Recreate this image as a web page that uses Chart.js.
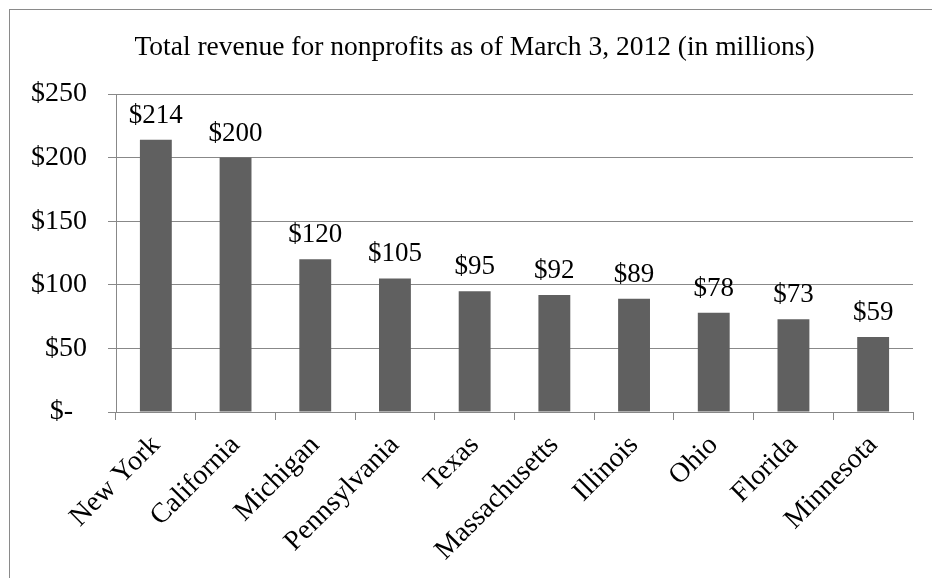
<!DOCTYPE html>
<html>
<head>
<script src="https://cdn.jsdelivr.net/npm/chart.js"></script>
<style>
  body { margin: 0; overflow: hidden; background: #fff; }
  #frame { position: absolute; left: 9px; top: 9px; width: 1000px; height: 700px; border: 1.5px solid #8a8a8a; }
  #box { position: absolute; left: 0; top: 0; width: 932px; height: 578px; }
</style>
</head>

<body>
<div id="frame"></div>
<div id="box">
  <canvas id="myChart" width="932" height="578"></canvas>
</div>

<script>
  const states = ['New York', 'California', 'Michigan', 'Pennsylvania', 'Texas',
                  'Massachusetts', 'Illinois', 'Ohio', 'Florida', 'Minnesota'];
  const revenue = [214, 200, 120, 105, 95, 92, 89, 78, 73, 59];
  const yTickLabels = ['$-\u2007', '$50', '$100', '$150', '$200', '$250'];
  const titleText = 'Total revenue for nonprofits as of March 3, 2012 (in millions)';

  const serif = '"Liberation Serif", "Times New Roman", serif';
  const gridColor = '#888888';

  // writes "$value" above each bar
  const barLabels = {
    id: 'barLabels',
    afterDatasetsDraw(chart) {
      const c = chart.ctx;
      const meta = chart.getDatasetMeta(0);
      c.save();
      c.font = '27px ' + serif;
      c.fillStyle = '#000';
      c.textAlign = 'center';
      c.textBaseline = 'alphabetic';
      meta.data.forEach(function(bar, i) {
        c.fillText('$' + revenue[i], bar.x, bar.y - 17);
      });
      c.restore();
    }
  };

  // title sits a bit left of the plot centre, so it is drawn here
  // instead of through the title plugin
  const chartTitle = {
    id: 'chartTitle',
    afterDraw(chart) {
      const c = chart.ctx;
      c.save();
      c.font = '27.5px ' + serif;
      c.fillStyle = '#000';
      c.textAlign = 'center';
      c.textBaseline = 'alphabetic';
      c.fillText(titleText, 474.5, 55);
      c.restore();
    }
  };

  const ctx = document.getElementById('myChart');
  new Chart(ctx, {
    type: 'bar',
    data: {
      labels: states,
      datasets: [{
        label: 'Revenue',
        data: revenue,
        backgroundColor: '#606060',
        barPercentage: 0.4,
        categoryPercentage: 1.0
      }]
    },
    options: {
      responsive: false,
      animation: false,
      layout: { padding: { left: 0, right: 19, top: 94, bottom: 0 } },
      plugins: {
        legend: { display: false },
        tooltip: { enabled: false },
        title: { display: false }
      },
      scales: {
        x: {
          grid: { offset: true, drawOnChartArea: false, tickLength: 8, color: gridColor },
          border: { color: gridColor },
          ticks: {
            autoSkip: false, minRotation: 45, maxRotation: 45,
            color: '#000', font: { family: serif, size: 28 }, padding: 9
          },
          afterFit(scale) { scale.height = 166; }
        },
        y: {
          min: 0, max: 250,
          grid: { color: gridColor, tickLength: 8 },
          border: { color: gridColor },
          ticks: {
            stepSize: 50,
            color: '#000', font: { family: serif, size: 28 }, padding: 21,
            callback: function(v, i) { return yTickLabels[i]; }
          },
          afterFit(scale) { scale.width = 116; }
        }
      }
    },
    plugins: [barLabels, chartTitle]
  });
</script>
</body>
</html>
